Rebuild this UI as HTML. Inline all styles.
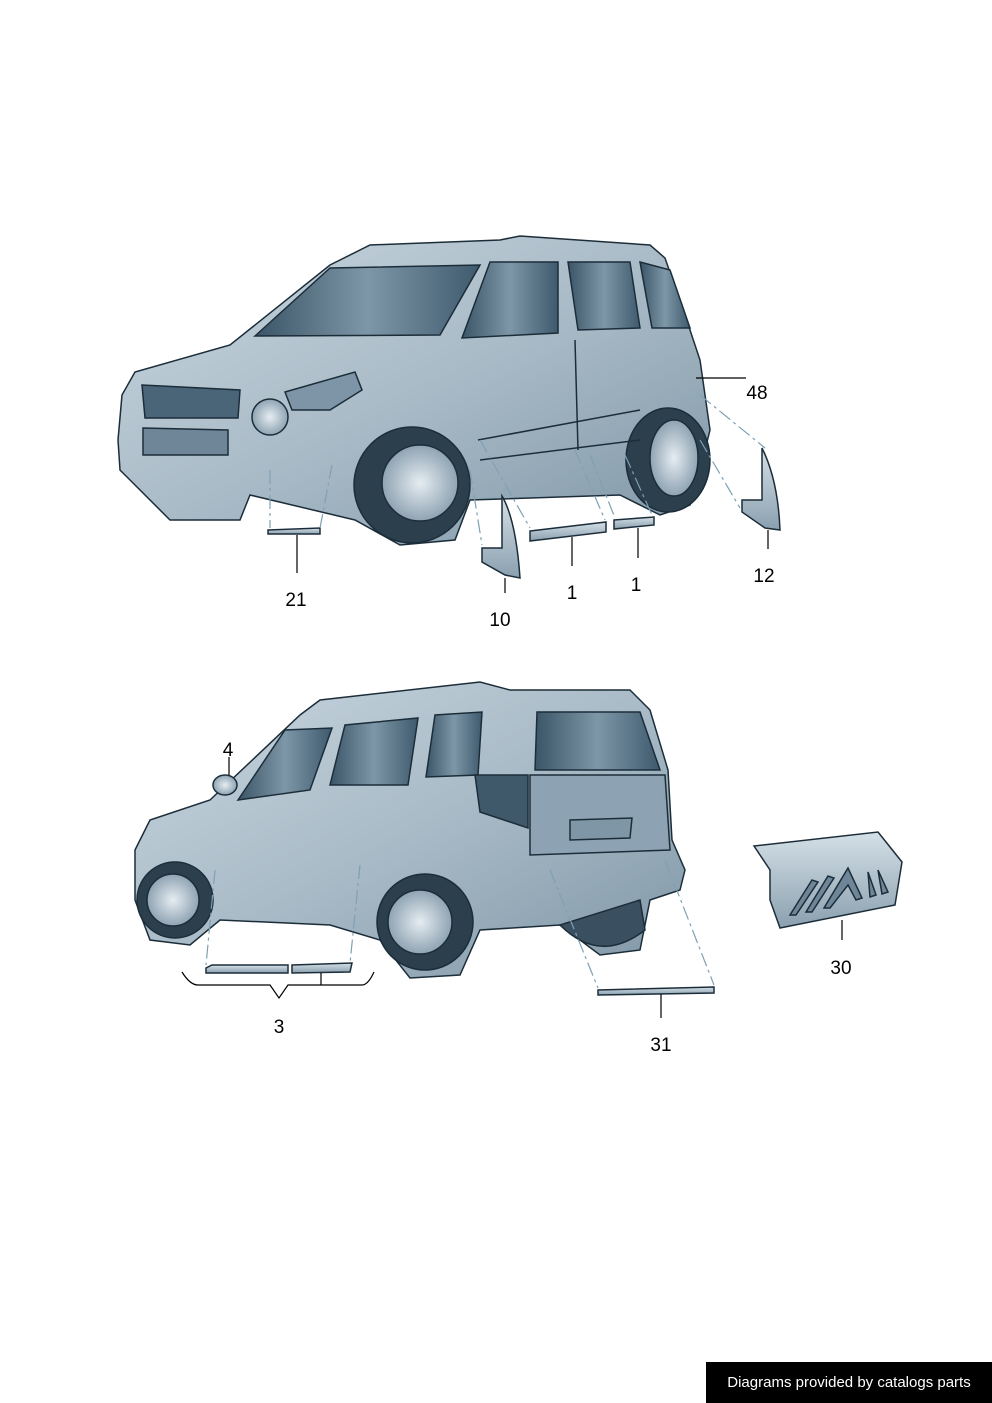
<!DOCTYPE html>
<html><head><meta charset="utf-8"><style>
html,body{margin:0;padding:0;background:#fff;}
body{width:992px;height:1403px;position:relative;overflow:hidden;font-family:"Liberation Sans",sans-serif;}
.ft{position:absolute;left:706px;top:1362px;width:286px;height:41px;background:#000;color:#fff;font-size:15px;line-height:41px;text-align:center;}
</style></head><body>
<svg width="992" height="1403" style="position:absolute;left:0;top:0">
<defs>
<linearGradient id="b" x1="0" y1="0" x2="1" y2="1"><stop offset="0" stop-color="#c9d6df"/><stop offset="0.5" stop-color="#a9bbc7"/><stop offset="1" stop-color="#7f96a6"/></linearGradient>
<linearGradient id="w" x1="0" y1="0" x2="1" y2="0"><stop offset="0" stop-color="#3b5568"/><stop offset="0.5" stop-color="#7d97a8"/><stop offset="1" stop-color="#3f5a6d"/></linearGradient>
<radialGradient id="r"><stop offset="0" stop-color="#e6edf2"/><stop offset="1" stop-color="#8ea3b2"/></radialGradient>
<linearGradient id="p" x1="0" y1="0" x2="0" y2="1"><stop offset="0" stop-color="#d5e0e7"/><stop offset="1" stop-color="#8aa0af"/></linearGradient>
</defs>
<g stroke="#1c2d3a" stroke-width="1.5">
<path fill="url(#b)" d="M118,440 L122,395 L135,372 L230,345 L330,265 L370,245 L500,240 L520,236 L650,245 L665,258 L690,330 L700,360 L710,430 L700,470 L690,505 L660,515 L620,495 L470,500 L455,540 L400,545 L355,520 L250,495 L240,520 L170,520 L140,490 L120,470 Z"/>
<path fill="url(#w)" d="M255,336 L330,268 L480,265 L440,335 Z"/>
<path fill="url(#w)" d="M462,338 L490,262 L558,262 L558,333 Z"/>
<path fill="url(#w)" d="M568,262 L630,262 L640,328 L578,330 Z"/>
<path fill="url(#w)" d="M640,262 L670,270 L690,328 L652,328 Z"/>
<path fill="#4a6478" d="M142,385 L240,390 L238,418 L145,418 Z"/>
<path fill="#6e8697" d="M143,428 L228,430 L228,455 L143,455 Z"/>
<ellipse cx="270" cy="417" rx="18" ry="18" fill="url(#r)"/>
<path fill="#7d95a6" d="M285,392 L355,372 L362,390 L330,410 L292,410 Z"/>
<circle cx="412" cy="485" r="58" fill="#2b3f4d"/>
<circle cx="420" cy="483" r="38" fill="url(#r)"/>
<ellipse cx="668" cy="460" rx="42" ry="52" fill="#2b3f4d"/>
<ellipse cx="674" cy="458" rx="24" ry="38" fill="url(#r)"/>
<path fill="none" d="M478,440 L640,410 M480,460 L640,440 M575,340 L578,450"/>
<path fill="url(#p)" d="M268,530 L320,528 L320,534 L268,534 Z"/>
<path fill="url(#p)" d="M530,531 L606,522 L606,532 L530,541 Z"/>
<path fill="url(#p)" d="M614,520 L654,517 L654,525 L614,529 Z"/>
<path fill="url(#p)" d="M502,496 Q516,520 520,578 L505,575 L482,562 L482,548 L502,548 Z"/>
<path fill="url(#p)" d="M762,448 Q778,480 780,530 L765,528 L742,512 L742,500 L762,500 Z"/>
<path fill="url(#b)" d="M135,850 L150,820 L210,800 L300,715 L320,700 L480,682 L510,690 L630,690 L650,710 L668,770 L672,840 L685,870 L680,890 L650,900 L640,950 L600,955 L560,925 L480,930 L460,975 L410,978 L380,940 L330,925 L220,920 L190,945 L150,940 L135,900 Z"/>
<path fill="url(#w)" d="M238,800 L285,730 L332,728 L310,790 Z"/>
<path fill="url(#w)" d="M330,785 L345,725 L418,718 L408,785 Z"/>
<path fill="url(#w)" d="M426,777 L435,715 L482,712 L478,775 Z"/>
<path fill="url(#w)" d="M537,712 L640,712 L660,770 L535,770 Z"/>
<path fill="#8da3b3" d="M530,775 L665,775 L670,850 L530,855 Z"/>
<path fill="#3f586a" d="M475,775 L528,775 L528,828 L480,812 Z"/>
<path fill="#7f96a6" d="M570,820 L632,818 L630,838 L570,840 Z"/>
<ellipse cx="225" cy="785" rx="12" ry="10" fill="url(#r)"/>
<circle cx="175" cy="900" r="38" fill="#2b3f4d"/>
<circle cx="173" cy="900" r="26" fill="url(#r)"/>
<circle cx="425" cy="922" r="48" fill="#2b3f4d"/>
<circle cx="420" cy="922" r="32" fill="url(#r)"/>
<path fill="#3a5061" d="M560,925 Q600,965 645,930 L640,900 Z"/>
<path fill="url(#p)" d="M206,968 L212,965 L288,965 L288,973 L206,973 Z"/>
<path fill="url(#p)" d="M292,965 L352,963 L350,972 L292,973 Z"/>
<path fill="url(#p)" d="M598,990 L714,987 L714,993 L598,995 Z"/>
<path fill="url(#p)" d="M754,846 L878,832 L902,862 L895,905 L780,928 L770,900 L770,870 Z"/>
<path fill="#6e8697" d="M790,915 L812,880 L818,882 L796,915 Z M806,912 L828,876 L834,878 L812,912 Z M824,908 L848,868 L862,898 L856,900 L848,885 L830,908 Z M868,872 L876,895 L870,897 Z M878,870 L888,892 L882,894 Z"/>
</g>
<g stroke="#000" stroke-width="1.2" fill="none">
<path d="M696,378 L746,378 M297,535 L297,573 M505,578 L505,593 M572,537 L572,566 M638,528 L638,558 M768,530 L768,549 M229,757 L229,775 M842,920 L842,940 M661,994 L661,1018"/>
<path d="M182,972 Q190,985 198,985 L270,985 L279,998 L288,985 L362,985 Q368,985 374,972 M321,973 L321,985"/>
</g>
<g stroke="#7fa0b4" stroke-width="1.2" stroke-dasharray="14,4,3,4" fill="none">
<path d="M270,470 L270,528 M332,465 L320,528 M470,470 L482,545 M480,440 L530,528 M575,450 L605,520 M590,455 L615,518 M625,455 L652,515 M700,395 L765,448 M700,440 L740,508 M215,870 L206,965 M360,865 L350,963 M550,870 L598,988 M665,860 L714,985"/>
</g>
<g font-family="Liberation Sans,sans-serif" font-size="19" fill="#000" text-anchor="middle">
<text x="757" y="399">48</text><text x="296" y="606">21</text><text x="500" y="626">10</text>
<text x="572" y="599">1</text><text x="636" y="591">1</text><text x="764" y="582">12</text>
<text x="228" y="756">4</text><text x="279" y="1033">3</text><text x="841" y="974">30</text><text x="661" y="1051">31</text>
</g>
</svg>
<div class="ft">Diagrams provided by catalogs parts</div>
</body></html>
